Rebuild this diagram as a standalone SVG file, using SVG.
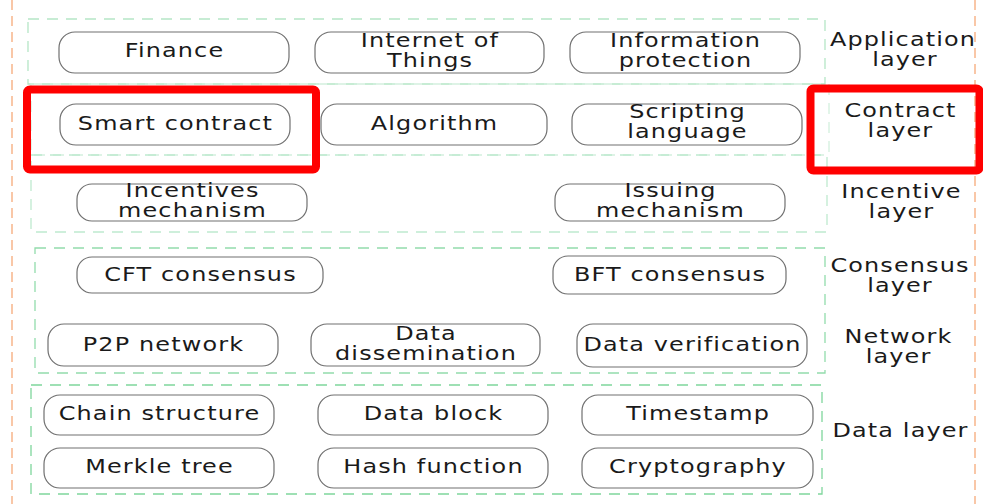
<svg xmlns="http://www.w3.org/2000/svg" width="983" height="504" viewBox="0 0 983 504">
  <style>
    .node rect { fill: #ffffff; stroke: #707070; stroke-width: 1.2; }
    .t { font-family: "DejaVu Sans", "Liberation Sans", sans-serif; font-size: 19px; letter-spacing: 0.9px; fill: #1a1a1a; text-anchor: middle;
         transform-box: fill-box; transform-origin: center; transform: scaleX(1.26); }
    .frame { fill: none; stroke-width: 1.3; stroke-dasharray: 11 8; }
    .edge { fill: none; stroke: #f7b58a; stroke-width: 1.5; stroke-dasharray: 10 6; }
    .hl { fill: none; stroke: #ff0000; stroke-width: 8; }
  </style>

  <rect width="983" height="504" fill="#ffffff"/>

  <!-- outer orange guides -->
  <line class="edge" x1="12" y1="0" x2="12" y2="504"/>
  <line class="edge" x1="975" y1="0" x2="975" y2="504"/>

  <!-- layer frames -->
  <g id="frames">
    <rect class="frame" x="28" y="19" width="797" height="65" stroke="#b5e6c6"/>
    <rect class="frame" x="31" y="84" width="798" height="71" stroke="#d3f0de"/>
    <rect class="frame" x="31" y="155" width="796" height="77" stroke="#bfeacf"/>
    <rect class="frame" x="35" y="248" width="790" height="125" stroke="#92dcac"/>
    <rect class="frame" x="31" y="385" width="791" height="109" stroke="#7fd69c"/>
  </g>

  <!-- application layer -->
  <g id="finance" class="node"><rect x="59" y="32" width="230" height="41" rx="16"/><text class="t" x="174.5" y="57.5">Finance</text></g>
  <g id="iot" class="node"><rect x="315" y="32" width="229" height="41" rx="16"/><text class="t" x="430" y="47">Internet of</text><text class="t" x="430" y="67">Things</text></g>
  <g id="info-protection" class="node"><rect x="570" y="32" width="230" height="41" rx="16"/><text class="t" x="685.5" y="47">Information</text><text class="t" x="685.5" y="67">protection</text></g>

  <!-- contract layer -->
  <g id="smart-contract" class="node"><rect x="60" y="104" width="230" height="41" rx="16"/><text class="t" x="175.5" y="130">Smart contract</text></g>
  <g id="algorithm" class="node"><rect x="321" y="104" width="226" height="41" rx="16"/><text class="t" x="434.5" y="130">Algorithm</text></g>
  <g id="scripting-language" class="node"><rect x="572" y="104" width="230" height="41" rx="16"/><text class="t" x="687.5" y="118.5">Scripting</text><text class="t" x="687.5" y="138.5">language</text></g>

  <!-- incentive layer -->
  <g id="incentives" class="node"><rect x="77" y="184" width="230" height="37" rx="15"/><text class="t" x="192.5" y="197">Incentives</text><text class="t" x="192.5" y="217">mechanism</text></g>
  <g id="issuing" class="node"><rect x="555" y="184" width="230" height="37" rx="15"/><text class="t" x="670.5" y="197">Issuing</text><text class="t" x="670.5" y="217">mechanism</text></g>

  <!-- consensus layer -->
  <g id="cft" class="node"><rect x="77" y="257" width="246" height="36" rx="15"/><text class="t" x="200.5" y="281">CFT consensus</text></g>
  <g id="bft" class="node"><rect x="553" y="256" width="233" height="38" rx="15"/><text class="t" x="670" y="281">BFT consensus</text></g>

  <!-- network layer -->
  <g id="p2p" class="node"><rect x="48" y="324" width="230" height="42" rx="16"/><text class="t" x="163.5" y="351">P2P network</text></g>
  <g id="dissemination" class="node"><rect x="311" y="324" width="229" height="42" rx="16"/><text class="t" x="426" y="340">Data</text><text class="t" x="426" y="360">dissemination</text></g>
  <g id="verification" class="node"><rect x="577" y="324" width="230" height="43" rx="16"/><text class="t" x="692.5" y="351">Data verification</text></g>

  <!-- data layer -->
  <g id="chain" class="node"><rect x="44" y="395" width="230" height="40" rx="16"/><text class="t" x="159.5" y="420">Chain structure</text></g>
  <g id="block" class="node"><rect x="318" y="395" width="230" height="40" rx="16"/><text class="t" x="433.5" y="420">Data block</text></g>
  <g id="timestamp" class="node"><rect x="582" y="395" width="231" height="40" rx="16"/><text class="t" x="698" y="420">Timestamp</text></g>
  <g id="merkle" class="node"><rect x="44" y="448" width="230" height="40" rx="16"/><text class="t" x="159.5" y="473">Merkle tree</text></g>
  <g id="hash" class="node"><rect x="318" y="448" width="230" height="40" rx="16"/><text class="t" x="433.5" y="473">Hash function</text></g>
  <g id="crypto" class="node"><rect x="582" y="448" width="231" height="40" rx="16"/><text class="t" x="698" y="473">Cryptography</text></g>

  <!-- layer names -->
  <g id="labels">
    <text class="t" x="903" y="46">Application</text><text class="t" x="905" y="66">layer</text>
    <text class="t" x="900.5" y="117">Contract</text><text class="t" x="900.5" y="137">layer</text>
    <text class="t" x="901.5" y="198">Incentive</text><text class="t" x="901.5" y="218">layer</text>
    <text class="t" x="900" y="272">Consensus</text><text class="t" x="900" y="292">layer</text>
    <text class="t" x="898.5" y="343">Network</text><text class="t" x="898.5" y="363">layer</text>
    <text class="t" x="900.5" y="437">Data layer</text>
  </g>

  <!-- highlight boxes -->
  <g id="connectors">
    <rect class="hl" x="27" y="89.5" width="289" height="80" rx="3"/>
    <rect class="hl" x="810.5" y="88.5" width="169" height="82" rx="3"/>
  </g>
</svg>
